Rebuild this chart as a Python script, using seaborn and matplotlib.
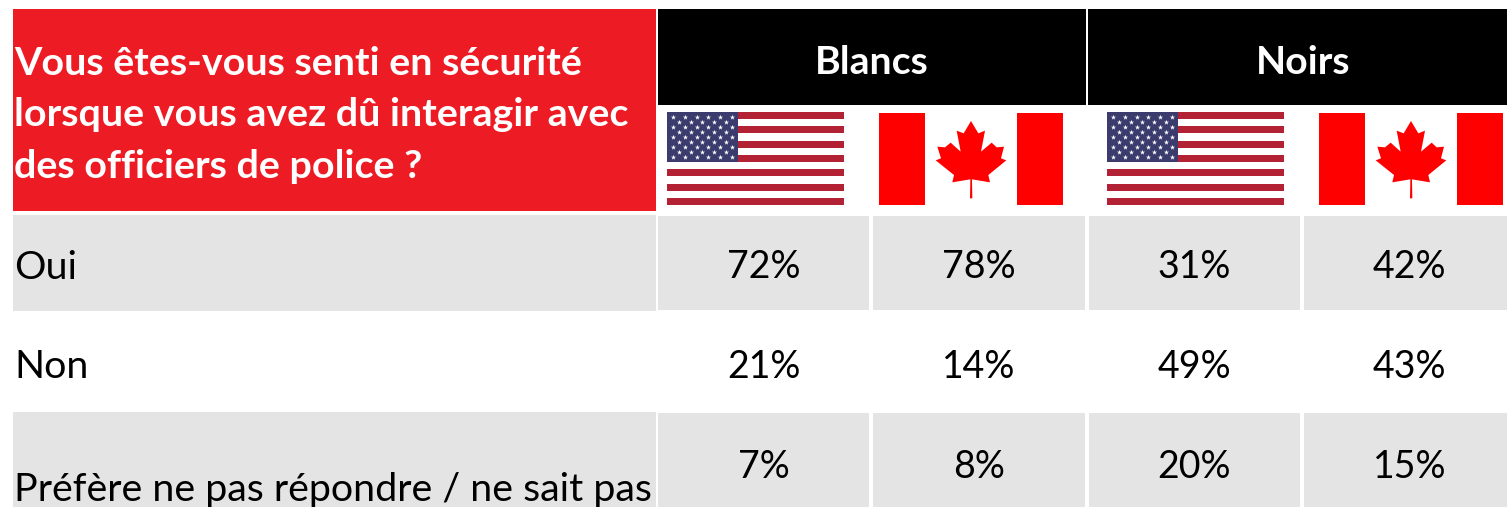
import numpy as np
import pandas as pd
import matplotlib
matplotlib.use("Agg")
import matplotlib.pyplot as plt
from matplotlib.colors import ListedColormap
from matplotlib.patches import Rectangle, Polygon
import seaborn as sns

# ---- data ----
question = ["Vous êtes-vous senti en sécurité",
            "lorsque vous avez dû interagir avec",
            "des officiers de police ?"]
groups = ["Blancs", "Noirs"]
countries = ["États-Unis", "Canada", "États-Unis ", "Canada "]
answers = ["Oui", "Non", "Préfère ne pas répondre / ne sait pas"]
oui = [72, 78, 31, 42]
non = [21, 14, 49, 43]
nsp = [7, 8, 20, 15]

# ---- layout (pixels) ----
W, H = 1507, 507
RED, BLACK, GREY = "#ED1C24", "#000000", "#E4E4E4"
body_x0, body_x1 = 656, 1517
row_boxes = [(214, 311.5), (311.5, 411), (411, 510)]
row_fill = [GREY, "#FFFFFF", GREY]
text_y = [267, 366.5, 466.5]
label_y = [268, 367, 490]
title_y = [63.5, 114.5, 166]
us_flags = [(667, 112, 177, 93), (1107, 112, 177, 93)]
ca_flags = [(879, 113, 184, 92), (1319, 113, 184, 92)]

sns.set_theme(style="white")
plt.rcParams["font.family"] = ["Lato", "DejaVu Sans"]

fig = plt.figure(figsize=(W / 100, H / 100), dpi=100, facecolor="white")

# body cells, one heatmap per answer row
rows = [oui, non, nsp]
for vals, (y0, y1), fill, ty in zip(rows, row_boxes, row_fill, text_y):
    ax = fig.add_axes([body_x0 / W, 1 - y1 / H,
                       (body_x1 - body_x0) / W, (y1 - y0) / H])
    frame = pd.DataFrame([vals], columns=countries)
    sns.heatmap(frame, ax=ax, cmap=ListedColormap([fill]), cbar=False,
                annot=np.array([[f"{v}%" for v in vals]]), fmt="",
                annot_kws={"color": "black", "fontsize": 27},
                linewidths=1.5, linecolor="white",
                xticklabels=False, yticklabels=False)
    for t in ax.texts:
        x, y = t.get_position()
        t.set_position((x, (ty - y0) / (y1 - y0)))

# overlay in pixel units for the header, flags and row labels
ov = fig.add_axes([0, 0, 1, 1], facecolor="none")
ov.set_xlim(0, W)
ov.set_ylim(H, 0)
ov.axis("off")

ov.add_patch(Rectangle((13, 9), 643, 202, color=RED, lw=0))
ov.add_patch(Rectangle((658, 9), 428, 96, color=BLACK, lw=0))
ov.add_patch(Rectangle((1088, 9), 419, 96, color=BLACK, lw=0))
for y, line in zip(title_y, question):
    ov.text(14, y, line, color="white", fontsize=28.4, fontweight="bold",
            ha="left", va="center")
for x, g in zip([872, 1303], groups):
    ov.text(x, 62, g, color="white", fontsize=28.3, fontweight="bold",
            ha="center", va="center")

# row labels
for (y0, y1), fill in zip(row_boxes, row_fill):
    ov.add_patch(Rectangle((13, y0 + 1), 643, y1 - y0 - 2, color=fill, lw=0))
for y, a in zip(label_y, answers):
    ov.text(14, y, a, color="black", fontsize=28.4, ha="left", va="center")


def us_flag(x, y, w, h):
    sh = h / 13
    for i in range(0, 13, 2):
        ov.add_patch(Rectangle((x, y + i * sh), w, sh, color="#B22234", lw=0))
    cw, ch = w * 0.4, sh * 7
    ov.add_patch(Rectangle((x, y), cw, ch, color="#3C3B6E", lw=0))
    sx, sy = [], []
    for r in range(9):
        n = 6 if r % 2 == 0 else 5
        off = 1 if r % 2 == 0 else 2
        for c in range(n):
            sx.append(x + cw * (off + 2 * c) / 12)
            sy.append(y + ch * (r + 1) / 10)
    ov.scatter(sx, sy, marker="*", s=15, color="white", lw=0, zorder=3)


# maple leaf outline, in pixels of a 184x92 flag, relative to its top-left
LEAF = np.array([(963, 93), (985, 130), (1005, 122), (993, 185), (1025, 158),
                 (1040, 172), (1062, 170), (1053, 205), (1069, 211), (1015, 255),
                 (1020, 277), (966, 268), (967, 325), (960, 325), (961, 268),
                 (907, 277), (912, 255), (857, 211), (873, 205), (862, 170),
                 (885, 172), (902, 158), (932, 185), (920, 122), (941, 130)],
                dtype=float)
LEAF = (LEAF - [687, 69]) / 3


def ca_flag(x, y, w, h):
    bar = w / 4
    ov.add_patch(Rectangle((x, y), bar, h, color="#FF0000", lw=0))
    ov.add_patch(Rectangle((x + w - bar, y), bar, h, color="#FF0000", lw=0))
    ov.add_patch(Polygon(LEAF + [x, y], closed=True, color="#FF0000", lw=0))


for f in us_flags:
    us_flag(*f)
for f in ca_flags:
    ca_flag(*f)

fig.savefig("out.png", dpi=100, facecolor="white")
